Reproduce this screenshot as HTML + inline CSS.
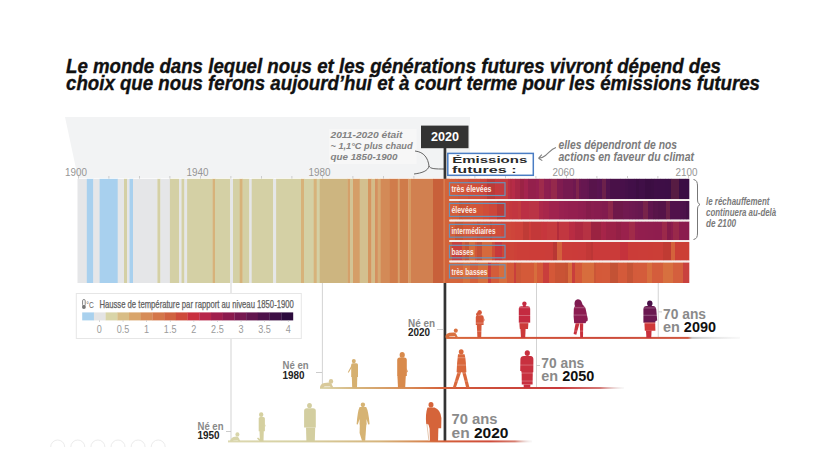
<!DOCTYPE html><html><head><meta charset="utf-8"><style>html,body{margin:0;padding:0;background:#fff;width:815px;height:458px;overflow:hidden}svg{display:block}text{font-family:"Liberation Sans",sans-serif}</style></head><body>
<svg width="815" height="458" viewBox="0 0 815 458">
<text x="66" y="72.8" font-size="19.4" font-weight="bold" font-style="italic" fill="#111" stroke="#111" stroke-width="0.35" textLength="655" lengthAdjust="spacingAndGlyphs">Le monde dans lequel nous et les générations futures vivront dépend des</text>
<text x="66" y="90.4" font-size="19.4" font-weight="bold" font-style="italic" fill="#111" stroke="#111" stroke-width="0.35" textLength="694" lengthAdjust="spacingAndGlyphs">choix que nous ferons aujourd’hui et à court terme pour les émissions futures</text>
<polygon points="65,117 470,117 470,178 78,178" fill="#f2f3f4"/>
<rect x="77.5" y="178.8" width="9.6" height="104.2" fill="#e5e6e8"/>
<rect x="86.8" y="178.8" width="6.8" height="104.2" fill="#a8d0ee"/>
<rect x="93.3" y="178.8" width="6.6" height="104.2" fill="#e5e6e8"/>
<rect x="99.6" y="178.8" width="18.4" height="104.2" fill="#a8d0ee"/>
<rect x="117.7" y="178.8" width="6.6" height="104.2" fill="#e5e6e8"/>
<rect x="124.0" y="178.8" width="3.3" height="104.2" fill="#d4d0a5"/>
<rect x="127.0" y="178.8" width="2.8" height="104.2" fill="#e5e6e8"/>
<rect x="129.5" y="178.8" width="3.8" height="104.2" fill="#a8d0ee"/>
<rect x="133.0" y="178.8" width="24.7" height="104.2" fill="#e5e6e8"/>
<rect x="157.4" y="178.8" width="3.3" height="104.2" fill="#d4d0a5"/>
<rect x="160.4" y="178.8" width="9.8" height="104.2" fill="#e5e6e8"/>
<rect x="169.9" y="178.8" width="9.5" height="104.2" fill="#d4d0a5"/>
<rect x="179.1" y="178.8" width="2.7" height="104.2" fill="#e5e6e8"/>
<rect x="181.5" y="178.8" width="3.2" height="104.2" fill="#d4d0a5"/>
<rect x="184.4" y="178.8" width="3.0" height="104.2" fill="#e5e6e8"/>
<rect x="187.1" y="178.8" width="25.8" height="104.2" fill="#d4d0a5"/>
<rect x="212.6" y="178.8" width="2.7" height="104.2" fill="#d7b27a"/>
<rect x="215.0" y="178.8" width="15.5" height="104.2" fill="#d4d0a5"/>
<rect x="230.2" y="178.8" width="3.1" height="104.2" fill="#e5e6e8"/>
<rect x="233.0" y="178.8" width="7.0" height="104.2" fill="#d4d0a5"/>
<rect x="239.7" y="178.8" width="3.2" height="104.2" fill="#d7b27a"/>
<rect x="242.6" y="178.8" width="7.0" height="104.2" fill="#d4d0a5"/>
<rect x="249.3" y="178.8" width="2.7" height="104.2" fill="#e5e6e8"/>
<rect x="251.7" y="178.8" width="21.8" height="104.2" fill="#d4d0a5"/>
<rect x="273.2" y="178.8" width="3.2" height="104.2" fill="#e5e6e8"/>
<rect x="276.1" y="178.8" width="25.2" height="104.2" fill="#d4d0a5"/>
<rect x="301.0" y="178.8" width="3.3" height="104.2" fill="#d7b27a"/>
<rect x="304.0" y="178.8" width="10.0" height="104.2" fill="#d4d0a5"/>
<rect x="313.7" y="178.8" width="3.3" height="104.2" fill="#d7b27a"/>
<rect x="316.7" y="178.8" width="3.3" height="104.2" fill="#d4d0a5"/>
<rect x="319.7" y="178.8" width="28.2" height="104.2" fill="#cdb580"/>
<rect x="347.6" y="178.8" width="2.7" height="104.2" fill="#d4a06a"/>
<rect x="350.0" y="178.8" width="3.3" height="104.2" fill="#d3c495"/>
<rect x="353.0" y="178.8" width="7.0" height="104.2" fill="#d59e68"/>
<rect x="359.7" y="178.8" width="8.6" height="104.2" fill="#d3c08f"/>
<rect x="368.0" y="178.8" width="3.8" height="104.2" fill="#d59560"/>
<rect x="371.5" y="178.8" width="3.8" height="104.2" fill="#d3bb88"/>
<rect x="375.0" y="178.8" width="3.0" height="104.2" fill="#d59060"/>
<rect x="377.7" y="178.8" width="3.3" height="104.2" fill="#d6a872"/>
<rect x="380.7" y="178.8" width="9.4" height="104.2" fill="#d38a57"/>
<rect x="389.8" y="178.8" width="8.3" height="104.2" fill="#d07c4b"/>
<rect x="397.8" y="178.8" width="2.1" height="104.2" fill="#d8a06a"/>
<rect x="399.6" y="178.8" width="9.1" height="104.2" fill="#cf7b4a"/>
<rect x="408.4" y="178.8" width="2.9" height="104.2" fill="#d69a62"/>
<rect x="411.0" y="178.8" width="22.3" height="104.2" fill="#d18050"/>
<rect x="433.0" y="178.8" width="13.3" height="104.2" fill="#c8603a"/>
<rect x="444.0" y="178.8" width="5.3" height="20.4" fill="#d4603a"/>
<rect x="449.0" y="178.8" width="2.3" height="20.4" fill="#d35e3a"/>
<rect x="451.0" y="178.8" width="4.3" height="20.4" fill="#d35c3a"/>
<rect x="455.0" y="178.8" width="3.3" height="20.4" fill="#d25b3a"/>
<rect x="458.0" y="178.8" width="10.3" height="20.4" fill="#d1553a"/>
<rect x="468.0" y="178.8" width="8.3" height="20.4" fill="#cf4e3a"/>
<rect x="476.0" y="178.8" width="4.3" height="20.4" fill="#cf4e3b"/>
<rect x="480.0" y="178.8" width="4.3" height="20.4" fill="#cc463b"/>
<rect x="484.0" y="178.8" width="3.3" height="20.4" fill="#cb443b"/>
<rect x="487.0" y="178.8" width="8.3" height="20.4" fill="#ba3a37"/>
<rect x="495.0" y="178.8" width="3.3" height="20.4" fill="#c73b3d"/>
<rect x="498.0" y="178.8" width="10.3" height="20.4" fill="#c43c3f"/>
<rect x="508.0" y="178.8" width="2.3" height="20.4" fill="#bb2f44"/>
<rect x="510.0" y="178.8" width="2.3" height="20.4" fill="#b12b42"/>
<rect x="512.0" y="178.8" width="3.3" height="20.4" fill="#b62b47"/>
<rect x="515.0" y="178.8" width="5.3" height="20.4" fill="#a92746"/>
<rect x="520.0" y="178.8" width="4.3" height="20.4" fill="#9b2345"/>
<rect x="524.0" y="178.8" width="4.3" height="20.4" fill="#a4244e"/>
<rect x="528.0" y="178.8" width="8.3" height="20.4" fill="#94204c"/>
<rect x="536.0" y="178.8" width="3.3" height="20.4" fill="#972050"/>
<rect x="539.0" y="178.8" width="5.3" height="20.4" fill="#9f2b4c"/>
<rect x="544.0" y="178.8" width="5.3" height="20.4" fill="#8e1f50"/>
<rect x="549.0" y="178.8" width="2.3" height="20.4" fill="#8b1e50"/>
<rect x="551.0" y="178.8" width="6.3" height="20.4" fill="#95294c"/>
<rect x="557.0" y="178.8" width="6.3" height="20.4" fill="#801c50"/>
<rect x="563.0" y="178.8" width="10.3" height="20.4" fill="#761a50"/>
<rect x="573.0" y="178.8" width="3.3" height="20.4" fill="#6f1850"/>
<rect x="576.0" y="178.8" width="3.3" height="20.4" fill="#7f254c"/>
<rect x="579.0" y="178.8" width="2.3" height="20.4" fill="#6a1750"/>
<rect x="581.0" y="178.8" width="6.3" height="20.4" fill="#661750"/>
<rect x="587.0" y="178.8" width="2.3" height="20.4" fill="#631650"/>
<rect x="589.0" y="178.8" width="8.3" height="20.4" fill="#58144b"/>
<rect x="597.0" y="178.8" width="2.3" height="20.4" fill="#5a1450"/>
<rect x="599.0" y="178.8" width="3.3" height="20.4" fill="#581450"/>
<rect x="602.0" y="178.8" width="4.3" height="20.4" fill="#6c214b"/>
<rect x="606.0" y="178.8" width="4.3" height="20.4" fill="#52134e"/>
<rect x="610.0" y="178.8" width="10.3" height="20.4" fill="#491148"/>
<rect x="620.0" y="178.8" width="5.3" height="20.4" fill="#48104a"/>
<rect x="625.0" y="178.8" width="3.3" height="20.4" fill="#451049"/>
<rect x="628.0" y="178.8" width="6.3" height="20.4" fill="#420f48"/>
<rect x="634.0" y="178.8" width="2.3" height="20.4" fill="#410f48"/>
<rect x="636.0" y="178.8" width="3.3" height="20.4" fill="#3d0e43"/>
<rect x="639.0" y="178.8" width="6.3" height="20.4" fill="#400f47"/>
<rect x="645.0" y="178.8" width="6.3" height="20.4" fill="#3b0d42"/>
<rect x="651.0" y="178.8" width="3.3" height="20.4" fill="#3c0e43"/>
<rect x="654.0" y="178.8" width="3.3" height="20.4" fill="#3f0e46"/>
<rect x="657.0" y="178.8" width="3.3" height="20.4" fill="#3e0e46"/>
<rect x="660.0" y="178.8" width="5.3" height="20.4" fill="#3e0e46"/>
<rect x="665.0" y="178.8" width="3.3" height="20.4" fill="#3d0e46"/>
<rect x="668.0" y="178.8" width="3.3" height="20.4" fill="#3d0e45"/>
<rect x="671.0" y="178.8" width="8.3" height="20.4" fill="#571c43"/>
<rect x="679.0" y="178.8" width="6.3" height="20.4" fill="#3b0d44"/>
<rect x="685.0" y="178.8" width="4.3" height="20.4" fill="#3a0d44"/>
<rect x="444.0" y="201.0" width="6.3" height="18.6" fill="#d4613a"/>
<rect x="450.0" y="201.0" width="2.3" height="18.6" fill="#d45f3a"/>
<rect x="452.0" y="201.0" width="5.3" height="18.6" fill="#d35d39"/>
<rect x="457.0" y="201.0" width="2.3" height="18.6" fill="#d35c39"/>
<rect x="459.0" y="201.0" width="3.3" height="18.6" fill="#c35435"/>
<rect x="462.0" y="201.0" width="8.3" height="18.6" fill="#c95436"/>
<rect x="470.0" y="201.0" width="3.3" height="18.6" fill="#d25638"/>
<rect x="473.0" y="201.0" width="10.3" height="18.6" fill="#d25338"/>
<rect x="483.0" y="201.0" width="6.3" height="18.6" fill="#d04d39"/>
<rect x="489.0" y="201.0" width="8.3" height="18.6" fill="#cd473a"/>
<rect x="497.0" y="201.0" width="8.3" height="18.6" fill="#bd3c38"/>
<rect x="505.0" y="201.0" width="4.3" height="18.6" fill="#c73b3d"/>
<rect x="509.0" y="201.0" width="3.3" height="18.6" fill="#c4383e"/>
<rect x="512.0" y="201.0" width="6.3" height="18.6" fill="#c23640"/>
<rect x="518.0" y="201.0" width="3.3" height="18.6" fill="#c33b40"/>
<rect x="521.0" y="201.0" width="8.3" height="18.6" fill="#bb2f44"/>
<rect x="529.0" y="201.0" width="10.3" height="18.6" fill="#ba3445"/>
<rect x="539.0" y="201.0" width="4.3" height="18.6" fill="#ad284a"/>
<rect x="543.0" y="201.0" width="6.3" height="18.6" fill="#a8264b"/>
<rect x="549.0" y="201.0" width="10.3" height="18.6" fill="#a0234e"/>
<rect x="559.0" y="201.0" width="5.3" height="18.6" fill="#992150"/>
<rect x="564.0" y="201.0" width="4.3" height="18.6" fill="#972050"/>
<rect x="568.0" y="201.0" width="10.3" height="18.6" fill="#941f4f"/>
<rect x="578.0" y="201.0" width="5.3" height="18.6" fill="#901e4f"/>
<rect x="583.0" y="201.0" width="3.3" height="18.6" fill="#8e1e4f"/>
<rect x="586.0" y="201.0" width="5.3" height="18.6" fill="#861c4b"/>
<rect x="591.0" y="201.0" width="3.3" height="18.6" fill="#8a1d4e"/>
<rect x="594.0" y="201.0" width="6.3" height="18.6" fill="#881c4e"/>
<rect x="600.0" y="201.0" width="2.3" height="18.6" fill="#851c4e"/>
<rect x="602.0" y="201.0" width="6.3" height="18.6" fill="#821b4e"/>
<rect x="608.0" y="201.0" width="5.3" height="18.6" fill="#8d274b"/>
<rect x="613.0" y="201.0" width="10.3" height="18.6" fill="#6f184a"/>
<rect x="623.0" y="201.0" width="6.3" height="18.6" fill="#711950"/>
<rect x="629.0" y="201.0" width="3.3" height="18.6" fill="#6e1850"/>
<rect x="632.0" y="201.0" width="3.3" height="18.6" fill="#6c1850"/>
<rect x="635.0" y="201.0" width="3.3" height="18.6" fill="#6a174f"/>
<rect x="638.0" y="201.0" width="5.3" height="18.6" fill="#67174f"/>
<rect x="643.0" y="201.0" width="5.3" height="18.6" fill="#78234a"/>
<rect x="648.0" y="201.0" width="5.3" height="18.6" fill="#60154d"/>
<rect x="653.0" y="201.0" width="2.3" height="18.6" fill="#581448"/>
<rect x="655.0" y="201.0" width="3.3" height="18.6" fill="#59144a"/>
<rect x="658.0" y="201.0" width="8.3" height="18.6" fill="#551348"/>
<rect x="666.0" y="201.0" width="4.3" height="18.6" fill="#6c2148"/>
<rect x="670.0" y="201.0" width="10.3" height="18.6" fill="#51124b"/>
<rect x="680.0" y="201.0" width="3.3" height="18.6" fill="#4d114b"/>
<rect x="683.0" y="201.0" width="3.3" height="18.6" fill="#4b114a"/>
<rect x="686.0" y="201.0" width="3.3" height="18.6" fill="#450f46"/>
<rect x="444.0" y="221.4" width="3.3" height="18.8" fill="#d4613a"/>
<rect x="447.0" y="221.4" width="8.3" height="18.8" fill="#d35f3a"/>
<rect x="455.0" y="221.4" width="8.3" height="18.8" fill="#c55636"/>
<rect x="463.0" y="221.4" width="10.3" height="18.8" fill="#d2593a"/>
<rect x="473.0" y="221.4" width="4.3" height="18.8" fill="#d1563a"/>
<rect x="477.0" y="221.4" width="3.3" height="18.8" fill="#c95138"/>
<rect x="480.0" y="221.4" width="3.3" height="18.8" fill="#d1563a"/>
<rect x="483.0" y="221.4" width="3.3" height="18.8" fill="#d0523a"/>
<rect x="486.0" y="221.4" width="4.3" height="18.8" fill="#d0513a"/>
<rect x="490.0" y="221.4" width="2.3" height="18.8" fill="#c34b36"/>
<rect x="492.0" y="221.4" width="3.3" height="18.8" fill="#d04e3a"/>
<rect x="495.0" y="221.4" width="6.3" height="18.8" fill="#cf4c3a"/>
<rect x="501.0" y="221.4" width="10.3" height="18.8" fill="#ce483a"/>
<rect x="511.0" y="221.4" width="4.3" height="18.8" fill="#ce453a"/>
<rect x="515.0" y="221.4" width="8.3" height="18.8" fill="#cd423a"/>
<rect x="523.0" y="221.4" width="6.3" height="18.8" fill="#bf3b36"/>
<rect x="529.0" y="221.4" width="2.3" height="18.8" fill="#cc3d3a"/>
<rect x="531.0" y="221.4" width="10.3" height="18.8" fill="#c33839"/>
<rect x="541.0" y="221.4" width="2.3" height="18.8" fill="#c7373c"/>
<rect x="543.0" y="221.4" width="4.3" height="18.8" fill="#c6363d"/>
<rect x="547.0" y="221.4" width="10.3" height="18.8" fill="#c63b3e"/>
<rect x="557.0" y="221.4" width="2.3" height="18.8" fill="#b22c3b"/>
<rect x="559.0" y="221.4" width="10.3" height="18.8" fill="#c23740"/>
<rect x="569.0" y="221.4" width="4.3" height="18.8" fill="#b92c42"/>
<rect x="573.0" y="221.4" width="2.3" height="18.8" fill="#b82c43"/>
<rect x="575.0" y="221.4" width="8.3" height="18.8" fill="#ae2941"/>
<rect x="583.0" y="221.4" width="8.3" height="18.8" fill="#b63243"/>
<rect x="591.0" y="221.4" width="10.3" height="18.8" fill="#9b2341"/>
<rect x="601.0" y="221.4" width="2.3" height="18.8" fill="#a72548"/>
<rect x="603.0" y="221.4" width="3.3" height="18.8" fill="#a62449"/>
<rect x="606.0" y="221.4" width="10.3" height="18.8" fill="#9c2247"/>
<rect x="616.0" y="221.4" width="5.3" height="18.8" fill="#942046"/>
<rect x="621.0" y="221.4" width="8.3" height="18.8" fill="#9a214c"/>
<rect x="629.0" y="221.4" width="6.3" height="18.8" fill="#a12b49"/>
<rect x="635.0" y="221.4" width="3.3" height="18.8" fill="#941f4d"/>
<rect x="638.0" y="221.4" width="3.3" height="18.8" fill="#921e4e"/>
<rect x="641.0" y="221.4" width="4.3" height="18.8" fill="#921e4e"/>
<rect x="645.0" y="221.4" width="3.3" height="18.8" fill="#911e4e"/>
<rect x="648.0" y="221.4" width="5.3" height="18.8" fill="#901e4e"/>
<rect x="653.0" y="221.4" width="2.3" height="18.8" fill="#901d4e"/>
<rect x="655.0" y="221.4" width="2.3" height="18.8" fill="#8f1d4e"/>
<rect x="657.0" y="221.4" width="5.3" height="18.8" fill="#8f1d4e"/>
<rect x="662.0" y="221.4" width="5.3" height="18.8" fill="#9b294a"/>
<rect x="667.0" y="221.4" width="4.3" height="18.8" fill="#851b4a"/>
<rect x="671.0" y="221.4" width="2.3" height="18.8" fill="#8d1d4e"/>
<rect x="673.0" y="221.4" width="6.3" height="18.8" fill="#99294a"/>
<rect x="679.0" y="221.4" width="3.3" height="18.8" fill="#8b1c4e"/>
<rect x="682.0" y="221.4" width="3.3" height="18.8" fill="#8b1c4e"/>
<rect x="685.0" y="221.4" width="4.3" height="18.8" fill="#8a1c4e"/>
<rect x="444.0" y="242.0" width="6.3" height="18.6" fill="#d4643a"/>
<rect x="450.0" y="242.0" width="2.3" height="18.6" fill="#cc5f38"/>
<rect x="452.0" y="242.0" width="10.3" height="18.6" fill="#c9403c"/>
<rect x="462.0" y="242.0" width="3.3" height="18.6" fill="#d25c39"/>
<rect x="465.0" y="242.0" width="4.3" height="18.6" fill="#c35435"/>
<rect x="469.0" y="242.0" width="6.3" height="18.6" fill="#d66d3d"/>
<rect x="475.0" y="242.0" width="2.3" height="18.6" fill="#d15639"/>
<rect x="477.0" y="242.0" width="5.3" height="18.6" fill="#c34f35"/>
<rect x="482.0" y="242.0" width="10.3" height="18.6" fill="#d66a3c"/>
<rect x="492.0" y="242.0" width="3.3" height="18.6" fill="#d04e38"/>
<rect x="495.0" y="242.0" width="4.3" height="18.6" fill="#c7393c"/>
<rect x="499.0" y="242.0" width="3.3" height="18.6" fill="#c7383c"/>
<rect x="502.0" y="242.0" width="4.3" height="18.6" fill="#ce4838"/>
<rect x="506.0" y="242.0" width="8.3" height="18.6" fill="#cd4438"/>
<rect x="514.0" y="242.0" width="3.3" height="18.6" fill="#cd4138"/>
<rect x="517.0" y="242.0" width="3.3" height="18.6" fill="#cc3f38"/>
<rect x="520.0" y="242.0" width="6.3" height="18.6" fill="#cc3e38"/>
<rect x="526.0" y="242.0" width="3.3" height="18.6" fill="#cc3e38"/>
<rect x="529.0" y="242.0" width="3.3" height="18.6" fill="#cc3d38"/>
<rect x="532.0" y="242.0" width="3.3" height="18.6" fill="#cc3d38"/>
<rect x="535.0" y="242.0" width="10.3" height="18.6" fill="#cc3d38"/>
<rect x="545.0" y="242.0" width="6.3" height="18.6" fill="#cb3d39"/>
<rect x="551.0" y="242.0" width="2.3" height="18.6" fill="#cb3c39"/>
<rect x="553.0" y="242.0" width="4.3" height="18.6" fill="#b93734"/>
<rect x="557.0" y="242.0" width="5.3" height="18.6" fill="#d3603d"/>
<rect x="562.0" y="242.0" width="2.3" height="18.6" fill="#cb3c39"/>
<rect x="564.0" y="242.0" width="8.3" height="18.6" fill="#cb3c39"/>
<rect x="572.0" y="242.0" width="6.3" height="18.6" fill="#cb3b39"/>
<rect x="578.0" y="242.0" width="8.3" height="18.6" fill="#ca3b3a"/>
<rect x="586.0" y="242.0" width="5.3" height="18.6" fill="#c23837"/>
<rect x="591.0" y="242.0" width="2.3" height="18.6" fill="#bc3636"/>
<rect x="593.0" y="242.0" width="6.3" height="18.6" fill="#ca3a3a"/>
<rect x="599.0" y="242.0" width="3.3" height="18.6" fill="#ca3a3a"/>
<rect x="602.0" y="242.0" width="8.3" height="18.6" fill="#ca3a3a"/>
<rect x="610.0" y="242.0" width="4.3" height="18.6" fill="#ca3b39"/>
<rect x="614.0" y="242.0" width="3.3" height="18.6" fill="#ca3b39"/>
<rect x="617.0" y="242.0" width="3.3" height="18.6" fill="#ca3b39"/>
<rect x="620.0" y="242.0" width="8.3" height="18.6" fill="#c5323c"/>
<rect x="628.0" y="242.0" width="10.3" height="18.6" fill="#cb3c38"/>
<rect x="638.0" y="242.0" width="10.3" height="18.6" fill="#cb3d38"/>
<rect x="648.0" y="242.0" width="5.3" height="18.6" fill="#cb3d37"/>
<rect x="653.0" y="242.0" width="10.3" height="18.6" fill="#cb3e37"/>
<rect x="663.0" y="242.0" width="8.3" height="18.6" fill="#c03b33"/>
<rect x="671.0" y="242.0" width="2.3" height="18.6" fill="#d4623b"/>
<rect x="673.0" y="242.0" width="2.3" height="18.6" fill="#d4623b"/>
<rect x="675.0" y="242.0" width="5.3" height="18.6" fill="#cc3f36"/>
<rect x="680.0" y="242.0" width="6.3" height="18.6" fill="#cc4035"/>
<rect x="686.0" y="242.0" width="3.3" height="18.6" fill="#cc4035"/>
<rect x="444.0" y="262.4" width="5.3" height="20.6" fill="#d8743e"/>
<rect x="449.0" y="262.4" width="8.3" height="20.6" fill="#d5663c"/>
<rect x="457.0" y="262.4" width="6.3" height="20.6" fill="#d5643b"/>
<rect x="463.0" y="262.4" width="4.3" height="20.6" fill="#d8723e"/>
<rect x="467.0" y="262.4" width="3.3" height="20.6" fill="#d8713e"/>
<rect x="470.0" y="262.4" width="5.3" height="20.6" fill="#d4613b"/>
<rect x="475.0" y="262.4" width="3.3" height="20.6" fill="#d4603b"/>
<rect x="478.0" y="262.4" width="10.3" height="20.6" fill="#d7703d"/>
<rect x="488.0" y="262.4" width="3.3" height="20.6" fill="#c93f3c"/>
<rect x="491.0" y="262.4" width="5.3" height="20.6" fill="#d45c3a"/>
<rect x="496.0" y="262.4" width="3.3" height="20.6" fill="#d45c3a"/>
<rect x="499.0" y="262.4" width="8.3" height="20.6" fill="#d76e3d"/>
<rect x="507.0" y="262.4" width="3.3" height="20.6" fill="#d45b39"/>
<rect x="510.0" y="262.4" width="4.3" height="20.6" fill="#d45b39"/>
<rect x="514.0" y="262.4" width="2.3" height="20.6" fill="#c93f3c"/>
<rect x="516.0" y="262.4" width="5.3" height="20.6" fill="#cc5737"/>
<rect x="521.0" y="262.4" width="10.3" height="20.6" fill="#d45a39"/>
<rect x="531.0" y="262.4" width="3.3" height="20.6" fill="#d45a39"/>
<rect x="534.0" y="262.4" width="3.3" height="20.6" fill="#d76e3d"/>
<rect x="537.0" y="262.4" width="3.3" height="20.6" fill="#d45939"/>
<rect x="540.0" y="262.4" width="3.3" height="20.6" fill="#d45939"/>
<rect x="543.0" y="262.4" width="6.3" height="20.6" fill="#c93e3c"/>
<rect x="549.0" y="262.4" width="6.3" height="20.6" fill="#d45838"/>
<rect x="555.0" y="262.4" width="10.3" height="20.6" fill="#c95335"/>
<rect x="565.0" y="262.4" width="3.3" height="20.6" fill="#c55234"/>
<rect x="568.0" y="262.4" width="4.3" height="20.6" fill="#d76d3d"/>
<rect x="572.0" y="262.4" width="3.3" height="20.6" fill="#c93e3c"/>
<rect x="575.0" y="262.4" width="4.3" height="20.6" fill="#d45939"/>
<rect x="579.0" y="262.4" width="3.3" height="20.6" fill="#d45939"/>
<rect x="582.0" y="262.4" width="8.3" height="20.6" fill="#d76d3d"/>
<rect x="590.0" y="262.4" width="4.3" height="20.6" fill="#d76d3d"/>
<rect x="594.0" y="262.4" width="2.3" height="20.6" fill="#cb5637"/>
<rect x="596.0" y="262.4" width="3.3" height="20.6" fill="#d45939"/>
<rect x="599.0" y="262.4" width="3.3" height="20.6" fill="#d45939"/>
<rect x="602.0" y="262.4" width="8.3" height="20.6" fill="#d45a3a"/>
<rect x="610.0" y="262.4" width="8.3" height="20.6" fill="#c35235"/>
<rect x="618.0" y="262.4" width="5.3" height="20.6" fill="#d45a3a"/>
<rect x="623.0" y="262.4" width="4.3" height="20.6" fill="#d45a3a"/>
<rect x="627.0" y="262.4" width="6.3" height="20.6" fill="#c55436"/>
<rect x="633.0" y="262.4" width="4.3" height="20.6" fill="#d45b3b"/>
<rect x="637.0" y="262.4" width="10.3" height="20.6" fill="#d45c3b"/>
<rect x="647.0" y="262.4" width="5.3" height="20.6" fill="#d76f3e"/>
<rect x="652.0" y="262.4" width="8.3" height="20.6" fill="#d45d3c"/>
<rect x="660.0" y="262.4" width="3.3" height="20.6" fill="#d45e3c"/>
<rect x="663.0" y="262.4" width="10.3" height="20.6" fill="#d7703f"/>
<rect x="673.0" y="262.4" width="10.3" height="20.6" fill="#d45f3d"/>
<rect x="683.0" y="262.4" width="6.3" height="20.6" fill="#c9413e"/>
<rect x="444" y="178.8" width="5.5" height="104.2" fill="#d2643a"/><rect x="443.5" y="178.8" width="1.2" height="104.2" fill="#dc8456"/>
<rect x="449.4" y="199.2" width="239.6" height="1.7" fill="#f6eeea"/>
<rect x="449.4" y="219.7" width="239.6" height="1.7" fill="#f6eeea"/>
<rect x="449.4" y="240.2" width="239.6" height="1.7" fill="#f6eeea"/>
<rect x="449.4" y="260.6" width="239.6" height="1.7" fill="#f6eeea"/>
<rect x="449.5" y="182.7" width="55.5" height="12.8" fill="none" stroke="#6a93b8" stroke-width="1.2"/>
<text x="451.5" y="192.3" font-size="9" font-weight="bold" fill="#fbeee8" textLength="40" lengthAdjust="spacingAndGlyphs">très élevées</text>
<rect x="449.5" y="203.4" width="55.5" height="13.0" fill="none" stroke="#6a93b8" stroke-width="1.2"/>
<text x="451.5" y="213.2" font-size="9" font-weight="bold" fill="#fbeee8" textLength="25" lengthAdjust="spacingAndGlyphs">élevées</text>
<rect x="449.5" y="224.4" width="55.5" height="12.8" fill="none" stroke="#6a93b8" stroke-width="1.2"/>
<text x="451.5" y="234.0" font-size="9" font-weight="bold" fill="#fbeee8" textLength="44" lengthAdjust="spacingAndGlyphs">intermédiaires</text>
<rect x="449.5" y="245.3" width="55.5" height="12.5" fill="none" stroke="#6a93b8" stroke-width="1.2"/>
<text x="451.5" y="254.6" font-size="9" font-weight="bold" fill="#fbeee8" textLength="22" lengthAdjust="spacingAndGlyphs">basses</text>
<rect x="449.5" y="264.8" width="55.5" height="13.1" fill="none" stroke="#6a93b8" stroke-width="1.2"/>
<text x="451.5" y="274.7" font-size="9" font-weight="bold" fill="#fbeee8" textLength="36" lengthAdjust="spacingAndGlyphs">très basses</text>
<rect x="78.0" y="176" width="0.8" height="2.6" fill="#c4c4c4"/>
<rect x="108.5" y="176" width="0.8" height="2.6" fill="#c4c4c4"/>
<rect x="139.0" y="176" width="0.8" height="2.6" fill="#c4c4c4"/>
<rect x="169.5" y="176" width="0.8" height="2.6" fill="#c4c4c4"/>
<rect x="200.0" y="176" width="0.8" height="2.6" fill="#c4c4c4"/>
<rect x="230.5" y="176" width="0.8" height="2.6" fill="#c4c4c4"/>
<rect x="261.0" y="176" width="0.8" height="2.6" fill="#c4c4c4"/>
<rect x="291.5" y="176" width="0.8" height="2.6" fill="#c4c4c4"/>
<rect x="322.0" y="176" width="0.8" height="2.6" fill="#c4c4c4"/>
<rect x="352.5" y="176" width="0.8" height="2.6" fill="#c4c4c4"/>
<rect x="383.0" y="176" width="0.8" height="2.6" fill="#c4c4c4"/>
<rect x="413.5" y="176" width="0.8" height="2.6" fill="#c4c4c4"/>
<rect x="444.0" y="176" width="0.8" height="2.6" fill="#c4c4c4"/>
<rect x="474.5" y="176" width="0.8" height="2.6" fill="#c4c4c4"/>
<rect x="505.0" y="176" width="0.8" height="2.6" fill="#c4c4c4"/>
<rect x="535.5" y="176" width="0.8" height="2.6" fill="#c4c4c4"/>
<rect x="566.0" y="176" width="0.8" height="2.6" fill="#c4c4c4"/>
<rect x="596.5" y="176" width="0.8" height="2.6" fill="#c4c4c4"/>
<rect x="627.0" y="176" width="0.8" height="2.6" fill="#c4c4c4"/>
<rect x="657.5" y="176" width="0.8" height="2.6" fill="#c4c4c4"/>
<rect x="688.0" y="176" width="0.8" height="2.6" fill="#c4c4c4"/>
<text x="65.0" y="176.2" font-size="11.8" fill="#959595" textLength="22" lengthAdjust="spacingAndGlyphs">1900</text>
<text x="186.5" y="176.2" font-size="11.8" fill="#959595" textLength="22" lengthAdjust="spacingAndGlyphs">1940</text>
<text x="308.5" y="176.2" font-size="11.8" fill="#959595" textLength="22" lengthAdjust="spacingAndGlyphs">1980</text>
<text x="552.5" y="176.2" font-size="11.8" fill="#959595" textLength="22" lengthAdjust="spacingAndGlyphs">2060</text>
<text x="675.5" y="176.2" font-size="11.8" fill="#959595" textLength="22" lengthAdjust="spacingAndGlyphs">2100</text>
<rect x="329" y="129" width="87.5" height="35" fill="#f7f7f7"/>
<text x="330.5" y="138.4" font-size="9.4" font-weight="bold" font-style="italic" fill="#828282" textLength="72" lengthAdjust="spacingAndGlyphs">2011-2020 était</text>
<text x="330.5" y="149.2" font-size="9.4" font-weight="bold" font-style="italic" fill="#828282" textLength="82" lengthAdjust="spacingAndGlyphs">~ 1,1°C plus chaud</text>
<text x="330.5" y="160.0" font-size="9.4" font-weight="bold" font-style="italic" fill="#828282" textLength="67" lengthAdjust="spacingAndGlyphs">que 1850-1900</text>
<path d="M415,151 C424,152 428,158 429,166 C430,169 436,169 444,169 M429,166 C428,171 422,173 414,174" fill="none" stroke="#666" stroke-width="1"/>
<rect x="421" y="125.6" width="47.5" height="22.6" fill="#333333"/>
<text x="431" y="141.3" font-size="13.5" font-weight="bold" fill="#fff" textLength="28" lengthAdjust="spacingAndGlyphs">2020</text>
<rect x="443.6" y="148" width="2.7" height="30.8" fill="#333"/><rect x="443.6" y="283" width="2.7" height="158.5" fill="#333"/>
<rect x="447.8" y="153.4" width="85.5" height="21.9" fill="#fff" stroke="#4a7dc4" stroke-width="1.5"/>
<text x="452.3" y="162.7" font-size="9.4" font-weight="bold" fill="#2a2a2a" textLength="75" lengthAdjust="spacingAndGlyphs">Émissions</text>
<text x="452" y="173.3" font-size="9.4" font-weight="bold" fill="#2a2a2a" textLength="64.5" lengthAdjust="spacingAndGlyphs">futures :</text>
<path d="M556,147.5 C551,149 549,153 545.5,155.5 C543,157.5 541,158.3 538.5,158.3 M538.5,158.3 L541.8,154.6 M538.5,158.3 L542.3,160.6" fill="none" stroke="#808080" stroke-width="1.1"/>
<text x="558.5" y="148.8" font-size="12.2" font-weight="bold" font-style="italic" fill="#7b7b7b" textLength="118.5" lengthAdjust="spacingAndGlyphs">elles dépendront de nos</text>
<text x="558.5" y="160.9" font-size="12.2" font-weight="bold" font-style="italic" fill="#7b7b7b" textLength="135.5" lengthAdjust="spacingAndGlyphs">actions en faveur du climat</text>
<path d="M693.5,179.5 C696.5,180 697.5,182 697.5,186 L697.5,199 C697.5,202 698,203.5 700,204.5 C698,205.5 697.5,207 697.5,210 L697.5,233 C697.5,237 696.5,239 693.5,239.5" fill="none" stroke="#777" stroke-width="1"/>
<text x="706" y="204.8" font-size="10.2" font-weight="bold" font-style="italic" fill="#7a7a7a" textLength="63.5" lengthAdjust="spacingAndGlyphs">le réchauffement</text>
<text x="706" y="215.9" font-size="10.2" font-weight="bold" font-style="italic" fill="#7a7a7a" textLength="70.2" lengthAdjust="spacingAndGlyphs">continuera au-delà</text>
<text x="706" y="227.0" font-size="10.2" font-weight="bold" font-style="italic" fill="#7a7a7a" textLength="30.0" lengthAdjust="spacingAndGlyphs">de 2100</text>
<rect x="230.6" y="283" width="0.8" height="158.5" fill="#c8c8c8"/>
<rect x="321.9" y="283" width="0.8" height="104.5" fill="#c8c8c8"/>
<rect x="536.1" y="283" width="0.8" height="104.5" fill="#c8c8c8"/>
<rect x="657.8" y="283" width="0.8" height="54.5" fill="#c8c8c8"/>
<rect x="76.3" y="293.5" width="225" height="45" fill="#fff" stroke="#e6e6e6" stroke-width="1"/>
<rect x="82.6" y="299.5" width="2.6" height="6.5" rx="1.3" fill="none" stroke="#777" stroke-width="0.9"/><circle cx="83.9" cy="307" r="1.9" fill="#777"/>
<text x="86.3" y="308" font-size="9.5" fill="#666" textLength="7.5" lengthAdjust="spacingAndGlyphs">°C</text>
<text x="99.4" y="308.2" font-size="10.5" fill="#5e5e5e" stroke="#5e5e5e" stroke-width="0.25" textLength="194.4" lengthAdjust="spacingAndGlyphs">Hausse de température par rapport au niveau 1850-1900</text>
<rect x="82.20" y="312.4" width="11.91" height="8" fill="#a9d1ee"/>
<rect x="93.91" y="312.4" width="11.91" height="8" fill="#e4e4e4"/>
<rect x="105.62" y="312.4" width="11.91" height="8" fill="#d9d5a8"/>
<rect x="117.33" y="312.4" width="11.91" height="8" fill="#d8bd86"/>
<rect x="129.04" y="312.4" width="11.91" height="8" fill="#d9a56b"/>
<rect x="140.76" y="312.4" width="11.91" height="8" fill="#d68c58"/>
<rect x="152.47" y="312.4" width="11.91" height="8" fill="#d4774a"/>
<rect x="164.18" y="312.4" width="11.91" height="8" fill="#d06340"/>
<rect x="175.89" y="312.4" width="11.91" height="8" fill="#ce4b3b"/>
<rect x="187.60" y="312.4" width="11.91" height="8" fill="#c9303f"/>
<rect x="199.31" y="312.4" width="11.91" height="8" fill="#b7264a"/>
<rect x="211.02" y="312.4" width="11.91" height="8" fill="#a01f4d"/>
<rect x="222.73" y="312.4" width="11.91" height="8" fill="#8b1b4e"/>
<rect x="234.44" y="312.4" width="11.91" height="8" fill="#761950"/>
<rect x="246.16" y="312.4" width="11.91" height="8" fill="#62164e"/>
<rect x="257.87" y="312.4" width="11.91" height="8" fill="#4e124a"/>
<rect x="269.58" y="312.4" width="11.91" height="8" fill="#3d0f45"/>
<rect x="281.29" y="312.4" width="11.91" height="8" fill="#2c0b3d"/>
<text x="116.9" y="333.2" font-size="10.7" fill="#9a9a9a" text-anchor="middle" transform="translate(0.0,0) scale(0.85,1)">0</text>
<rect x="99.1" y="320.4" width="0.7" height="1.4" fill="#bbb"/>
<text x="144.7" y="333.2" font-size="10.7" fill="#9a9a9a" text-anchor="middle" transform="translate(0.0,0) scale(0.85,1)">0.5</text>
<rect x="122.7" y="320.4" width="0.7" height="1.4" fill="#bbb"/>
<text x="172.5" y="333.2" font-size="10.7" fill="#9a9a9a" text-anchor="middle" transform="translate(0.0,0) scale(0.85,1)">1</text>
<rect x="146.3" y="320.4" width="0.7" height="1.4" fill="#bbb"/>
<text x="200.2" y="333.2" font-size="10.7" fill="#9a9a9a" text-anchor="middle" transform="translate(0.0,0) scale(0.85,1)">1.5</text>
<rect x="169.9" y="320.4" width="0.7" height="1.4" fill="#bbb"/>
<text x="228.0" y="333.2" font-size="10.7" fill="#9a9a9a" text-anchor="middle" transform="translate(0.0,0) scale(0.85,1)">2</text>
<rect x="193.5" y="320.4" width="0.7" height="1.4" fill="#bbb"/>
<text x="255.8" y="333.2" font-size="10.7" fill="#9a9a9a" text-anchor="middle" transform="translate(0.0,0) scale(0.85,1)">2.5</text>
<rect x="217.1" y="320.4" width="0.7" height="1.4" fill="#bbb"/>
<text x="283.5" y="333.2" font-size="10.7" fill="#9a9a9a" text-anchor="middle" transform="translate(0.0,0) scale(0.85,1)">3</text>
<rect x="240.7" y="320.4" width="0.7" height="1.4" fill="#bbb"/>
<text x="311.3" y="333.2" font-size="10.7" fill="#9a9a9a" text-anchor="middle" transform="translate(0.0,0) scale(0.85,1)">3.5</text>
<rect x="264.2" y="320.4" width="0.7" height="1.4" fill="#bbb"/>
<text x="339.1" y="333.2" font-size="10.7" fill="#9a9a9a" text-anchor="middle" transform="translate(0.0,0) scale(0.85,1)">4</text>
<rect x="287.9" y="320.4" width="0.7" height="1.4" fill="#bbb"/>
<defs></defs>
<linearGradient id="g1950" gradientUnits="userSpaceOnUse" x1="228.0" y1="0" x2="532.0" y2="0">
<stop offset="0.000" stop-color="#dcd8b0" stop-opacity="1.00"/>
<stop offset="0.237" stop-color="#d6d0a2" stop-opacity="1.00"/>
<stop offset="0.500" stop-color="#d6b47c" stop-opacity="1.00"/>
<stop offset="0.648" stop-color="#d6844f" stop-opacity="1.00"/>
<stop offset="0.711" stop-color="#d4603a" stop-opacity="1.00"/>
<stop offset="0.862" stop-color="#cf4b3a" stop-opacity="1.00"/>
<stop offset="0.944" stop-color="#d27060" stop-opacity="0.90"/>
<stop offset="1.000" stop-color="#e0e0e0" stop-opacity="0.20"/>
</linearGradient>
<rect x="228.0" y="440.40" width="304.0" height="2.00" fill="url(#g1950)"/>
<linearGradient id="g1980" gradientUnits="userSpaceOnUse" x1="320.0" y1="0" x2="624.0" y2="0">
<stop offset="0.000" stop-color="#ddd8b0" stop-opacity="1.00"/>
<stop offset="0.132" stop-color="#d6b27a" stop-opacity="1.00"/>
<stop offset="0.296" stop-color="#d88a55" stop-opacity="1.00"/>
<stop offset="0.408" stop-color="#d4603a" stop-opacity="1.00"/>
<stop offset="0.592" stop-color="#cc4a3b" stop-opacity="1.00"/>
<stop offset="0.789" stop-color="#c83a3c" stop-opacity="1.00"/>
<stop offset="0.921" stop-color="#d06a66" stop-opacity="0.90"/>
<stop offset="1.000" stop-color="#e0e0e0" stop-opacity="0.20"/>
</linearGradient>
<rect x="320.0" y="387.00" width="304.0" height="2.00" fill="url(#g1980)"/>
<linearGradient id="g2020" gradientUnits="userSpaceOnUse" x1="446.0" y1="0" x2="740.0" y2="0">
<stop offset="0.000" stop-color="#d86a3c" stop-opacity="1.00"/>
<stop offset="0.252" stop-color="#d2553a" stop-opacity="1.00"/>
<stop offset="0.524" stop-color="#cc4a3a" stop-opacity="1.00"/>
<stop offset="0.823" stop-color="#d05840" stop-opacity="1.00"/>
<stop offset="0.837" stop-color="#c0c0c0" stop-opacity="0.90"/>
<stop offset="1.000" stop-color="#e0e0e0" stop-opacity="0.20"/>
</linearGradient>
<rect x="446.0" y="336.90" width="294.0" height="2.00" fill="url(#g2020)"/>
<ellipse cx="455.8" cy="330.6" rx="2.0" ry="2.2" fill="#d9713f"/>
<path d="M445.5,337.8 C445,335.5 446.5,333.2 449.5,332.8 L453.8,332.4 C455.5,332.6 456.5,333.8 456.8,335.2 L458.2,337.8 L456.3,337.8 L454.8,336.2 L449.5,336.4 L448.2,337.8 Z" fill="#d9713f"/>
<ellipse cx="479.6" cy="312.4" rx="2.3" ry="2.5" fill="#d5583a"/>
<ellipse cx="477.4" cy="314.2" rx="1.3" ry="1.8" fill="#d5583a"/>
<path d="M475.8,317.0 Q475.8,315.2 477.6,315.2 L481.8,315.2 Q483.6,315.2 483.6,317.0 L483.6,325.0 L475.8,325.0 Z" fill="#d5583a"/>
<path d="M483.5,317 L484.6,320 L483.5,322 Z" fill="#d5583a"/>
<path d="M476.8,324.8 L481.6,324.8 L481.2,337.8 L477.4,337.8 Z" fill="#d5583a"/>
<rect x="475.0" y="322.6" width="10.0" height="0.9" fill="#fff" fill-opacity="0.3"/>
<rect x="475.0" y="330.8" width="10.0" height="0.9" fill="#fff" fill-opacity="0.3"/>
<ellipse cx="524.4" cy="303.8" rx="2.2" ry="2.4" fill="#c42a40"/>
<path d="M523,305.5 L525.8,305.5 L525.8,307.5 L523,307.5 Z" fill="#c42a40"/>
<path d="M518.8,308.7 Q518.8,306.3 521.2,306.3 L527.8,306.3 Q530.2,306.3 530.2,308.7 L530.2,322.8 L518.8,322.8 Z" fill="#c42a40"/>
<path d="M519.3,322.6 L528.4,322.6 L528,329 L519.8,329 Z" fill="#cc3a3a"/>
<path d="M520.4,328.8 L525.6,328.8 L525.2,338 L521,338 Z" fill="#cc3a3a"/>
<rect x="518.0" y="307.3" width="13.0" height="0.9" fill="#fff" fill-opacity="0.3"/>
<rect x="518.0" y="315.0" width="13.0" height="0.9" fill="#fff" fill-opacity="0.3"/>
<rect x="518.0" y="322.6" width="13.0" height="0.9" fill="#fff" fill-opacity="0.3"/>
<path d="M575,306 C573.8,303 575,299.2 578,299.2 C580.8,299.2 582,302 582.5,304.5 L584,306 Z" fill="#7e1a50"/>
<path d="M573.8,309 Q574,305.8 577,305.6 L582,305.6 Q585.3,306 585.8,309.5 L587.8,319 Q588,321.5 586.2,321.5 L585.6,323.2 L574.2,323.2 Q573.2,316 573.8,309 Z" fill="#8c1c50"/>
<path d="M575.6,323 L579.6,323 L576.3,334.8 L573.6,334 Z" fill="#c8303c"/>
<path d="M579.8,323 L583.2,323 L583,337.8 L580.2,337.8 Z" fill="#c8303c"/>
<rect x="573.0" y="307.3" width="16.0" height="0.9" fill="#fff" fill-opacity="0.3"/>
<rect x="573.0" y="314.6" width="16.0" height="0.9" fill="#fff" fill-opacity="0.3"/>
<rect x="573.0" y="323.2" width="16.0" height="0.9" fill="#fff" fill-opacity="0.3"/>
<rect x="573.0" y="330.6" width="16.0" height="0.9" fill="#fff" fill-opacity="0.3"/>
<ellipse cx="649.8" cy="303.4" rx="2.7" ry="3.0" fill="#4a1048"/>
<path d="M643.4,309 Q643.5,306.2 646.6,306 L653,306 Q656,306.4 656.3,309.5 L657.2,320.6 L655.6,321 L655.2,322.8 L643.4,322.8 Z" fill="#6a1850"/>
<path d="M644.4,322.6 L655.2,322.6 L655.4,330.8 L644.8,330.8 Z" fill="#d03838"/>
<path d="M646,330.6 L651.6,330.6 L651.2,338 L646.4,338 Z" fill="#c8303c"/>
<rect x="643.0" y="307.5" width="15.0" height="0.9" fill="#fff" fill-opacity="0.3"/>
<rect x="643.0" y="314.8" width="15.0" height="0.9" fill="#fff" fill-opacity="0.3"/>
<rect x="643.0" y="322.8" width="15.0" height="0.9" fill="#fff" fill-opacity="0.3"/>
<ellipse cx="331.0" cy="381.4" rx="2.2" ry="2.4" fill="#d8c99a"/>
<path d="M320,388 C319.8,385.5 321.5,383.3 324.5,383 L328.8,382.6 C330.8,382.8 331.8,384 332.3,385.4 L333.6,388 L331.6,388 L330,386.4 L324.5,386.6 L323,388 Z" fill="#d8c99a"/>
<ellipse cx="353.8" cy="361.1" rx="2.0" ry="2.2" fill="#d6b070"/>
<path d="M351.2,364.8 Q351.2,363.3 352.7,363.3 L356.5,363.3 Q358.0,363.3 358.0,364.8 L358.0,377.0 L351.2,377.0 Z" fill="#d6b070"/>
<path d="M352,364.5 L353,365.5 L348.6,372.8 L347.8,372.2 Z" fill="#d6b070"/>
<path d="M351.8,376.8 L357.3,376.8 L357,387.8 L352.2,387.8 Z" fill="#d6b070"/>
<ellipse cx="402.2" cy="354.9" rx="2.6" ry="2.9" fill="#d88a4c"/>
<path d="M397.2,359.9 Q397.2,357.4 399.7,357.4 L404.3,357.4 Q406.8,357.4 406.8,359.9 L406.8,376.0 L397.2,376.0 Z" fill="#d88a4c"/>
<path d="M406.5,368 L407.8,371.5 L406.5,373 Z" fill="#d88a4c"/>
<path d="M397.4,375.8 L405.8,375.8 L405.2,387.8 L398,387.8 Z" fill="#d88a4c"/>
<ellipse cx="461.2" cy="351.8" rx="2.4" ry="2.6" fill="#d9683c"/>
<path d="M458,354.2 L464.6,354.2 Q465.6,358 465.8,362 L466.4,372.2 L456.6,372.2 Q457,362 458,354.2 Z" fill="#d9683c"/>
<path d="M457.5,372 L461.2,372 L455.8,387.8 L452.8,387.8 Z" fill="#d9683c"/>
<path d="M462.2,372 L465.6,372 L469.5,387.8 L466.2,387.8 Z" fill="#d9683c"/>
<rect x="452.0" y="357.3" width="18.0" height="0.9" fill="#fff" fill-opacity="0.3"/>
<rect x="452.0" y="364.6" width="18.0" height="0.9" fill="#fff" fill-opacity="0.3"/>
<rect x="452.0" y="372.6" width="18.0" height="0.9" fill="#fff" fill-opacity="0.3"/>
<rect x="452.0" y="380.6" width="18.0" height="0.9" fill="#fff" fill-opacity="0.3"/>
<ellipse cx="527.3" cy="353.1" rx="2.6" ry="2.9" fill="#c8303f"/>
<path d="M520.4,359 Q520.6,356 524,356 L530.6,356 Q533.4,356.4 533.4,359.5 L533.3,372.2 L521.3,372.2 L521.3,371 L520.2,371 Z" fill="#c8303f"/>
<path d="M521.6,372 L532.8,372 L532.6,384.5 L521.8,384.5 Z" fill="#c8303f"/>
<path d="M523.6,384.4 L530.4,384.4 L530.2,388 L523.8,388 Z" fill="#c8303f"/>
<rect x="520.0" y="364.6" width="14.0" height="0.9" fill="#fff" fill-opacity="0.3"/>
<rect x="520.0" y="372.6" width="14.0" height="0.9" fill="#fff" fill-opacity="0.3"/>
<rect x="520.0" y="380.6" width="14.0" height="0.9" fill="#fff" fill-opacity="0.3"/>
<ellipse cx="237.4" cy="434.4" rx="2.0" ry="2.2" fill="#d8d5aa"/>
<path d="M230.2,441.4 C230.2,439.5 231.5,437.5 233.5,437 L236.5,436.6 C238.2,436.8 239,438 239.4,439.2 L240.4,441.4 L238.8,441.4 L237.6,440.2 L233.6,440.4 L232.5,441.4 Z" fill="#d8d5aa"/>
<ellipse cx="261.2" cy="414.7" rx="2.2" ry="2.4" fill="#d5d0a0"/>
<path d="M258.7,418.5 Q258.7,417.0 260.2,417.0 L263.4,417.0 Q264.9,417.0 264.9,418.5 L264.9,431.2 L258.7,431.2 Z" fill="#d5d0a0"/>
<path d="M264.6,423 L265.6,426 L264.6,427 Z" fill="#d5d0a0"/>
<path d="M259.5,431 L263.8,431 L263.5,441.4 L260,441.4 L257,438.6 L258,437.6 L259.8,439 Z" fill="#d5d0a0"/>
<ellipse cx="309.5" cy="405.5" rx="2.4" ry="2.6" fill="#d3cea0"/>
<path d="M304.1,411.1 Q304.1,408.3 306.9,408.3 L313.0,408.3 Q315.8,408.3 315.8,411.1 L315.8,427.6 L304.1,427.6 Z" fill="#d3cea0"/>
<path d="M306,427.4 L315.2,427.4 L314.8,441.4 L306.4,441.4 Z" fill="#d3cea0"/>
<ellipse cx="362.9" cy="404.8" rx="2.2" ry="2.4" fill="#d6b373"/>
<path d="M359.6,407 L366.2,407 Q368.5,411 369.6,424.2 L368.2,424.4 L366.5,419 L366.6,424.4 L359.6,424.4 L359.6,419 L357.8,424.4 L356.6,424.2 Q357.6,411 359.6,407 Z" fill="#d6b373"/>
<path d="M359.8,423.6 L366.4,423.6 L365.2,440.8 L362,440.8 L359.6,433 Z" fill="#d6b373"/>
<ellipse cx="431.0" cy="404.8" rx="2.5" ry="2.8" fill="#d5643a"/>
<path d="M427.5,407.4 L434.5,407.4 Q440.6,409.5 441.4,418 L441.2,428.2 L429.5,428.2 L428.5,424.5 L426.2,424 Q425.2,414 427.5,407.4 Z" fill="#d5643a"/>
<path d="M429.6,428 L438.4,428 L438,441.4 L430,441.4 Z" fill="#d5643a"/>
<rect x="426.4" y="423.8" width="0.9" height="17.4" fill="#e2c2a8" transform="rotate(-7 426.8 423.8)"/>
<rect x="316" y="372" width="6" height="0.8" fill="#c0c0c0"/>
<rect x="226" y="431" width="5" height="0.8" fill="#c0c0c0"/>
<rect x="437" y="329" width="6" height="0.8" fill="#c0c0c0"/>
<rect x="658.5" y="311.5" width="3.5" height="0.8" fill="#c0c0c0"/>
<rect x="536.5" y="365" width="3.5" height="0.8" fill="#c0c0c0"/>
<text x="408.0" y="327.0" font-size="10.5" font-weight="bold" fill="#888" textLength="27" lengthAdjust="spacingAndGlyphs">Né en</text>
<text x="408.0" y="336.3" font-size="10.5" font-weight="bold" fill="#222" textLength="22" lengthAdjust="spacingAndGlyphs">2020</text>
<text x="282.6" y="369.3" font-size="10.5" font-weight="bold" fill="#888" textLength="26" lengthAdjust="spacingAndGlyphs">Né en</text>
<text x="282.6" y="378.6" font-size="10.5" font-weight="bold" fill="#222" textLength="22" lengthAdjust="spacingAndGlyphs">1980</text>
<text x="197.5" y="429.6" font-size="10.5" font-weight="bold" fill="#888" textLength="26" lengthAdjust="spacingAndGlyphs">Né en</text>
<text x="197.5" y="438.9" font-size="10.5" font-weight="bold" fill="#222" textLength="22" lengthAdjust="spacingAndGlyphs">1950</text>
<text x="663.0" y="318.5" font-size="14.3" font-weight="bold" fill="#8a8a8a" textLength="43.0" lengthAdjust="spacingAndGlyphs">70 ans</text>
<text x="663.0" y="331.8" font-size="14.3" font-weight="bold" fill="#8a8a8a" textLength="53.0" lengthAdjust="spacingAndGlyphs"><tspan>en </tspan><tspan fill="#111">2090</tspan></text>
<text x="541.3" y="367.9" font-size="14.3" font-weight="bold" fill="#8a8a8a" textLength="43.0" lengthAdjust="spacingAndGlyphs">70 ans</text>
<text x="541.3" y="381.4" font-size="14.3" font-weight="bold" fill="#8a8a8a" textLength="53.0" lengthAdjust="spacingAndGlyphs"><tspan>en </tspan><tspan fill="#111">2050</tspan></text>
<text x="451.5" y="423.8" font-size="15.0" font-weight="bold" fill="#8a8a8a" textLength="46.0" lengthAdjust="spacingAndGlyphs">70 ans</text>
<text x="451.5" y="437.7" font-size="15.0" font-weight="bold" fill="#8a8a8a" textLength="57.0" lengthAdjust="spacingAndGlyphs"><tspan>en </tspan><tspan fill="#111">2020</tspan></text>
<path d="M50.7,447 A7,7 0 0 1 64.7,447" fill="none" stroke="#ececec" stroke-width="1"/>
<path d="M70.8,447 A7,7 0 0 1 84.8,447" fill="none" stroke="#ececec" stroke-width="1"/>
<path d="M90.9,447 A7,7 0 0 1 104.9,447" fill="none" stroke="#ececec" stroke-width="1"/>
<path d="M111.0,447 A7,7 0 0 1 125.0,447" fill="none" stroke="#ececec" stroke-width="1"/>
<path d="M131.1,447 A7,7 0 0 1 145.1,447" fill="none" stroke="#ececec" stroke-width="1"/>
<path d="M151.2,447 A7,7 0 0 1 165.2,447" fill="none" stroke="#ececec" stroke-width="1"/>
</svg></body></html>
